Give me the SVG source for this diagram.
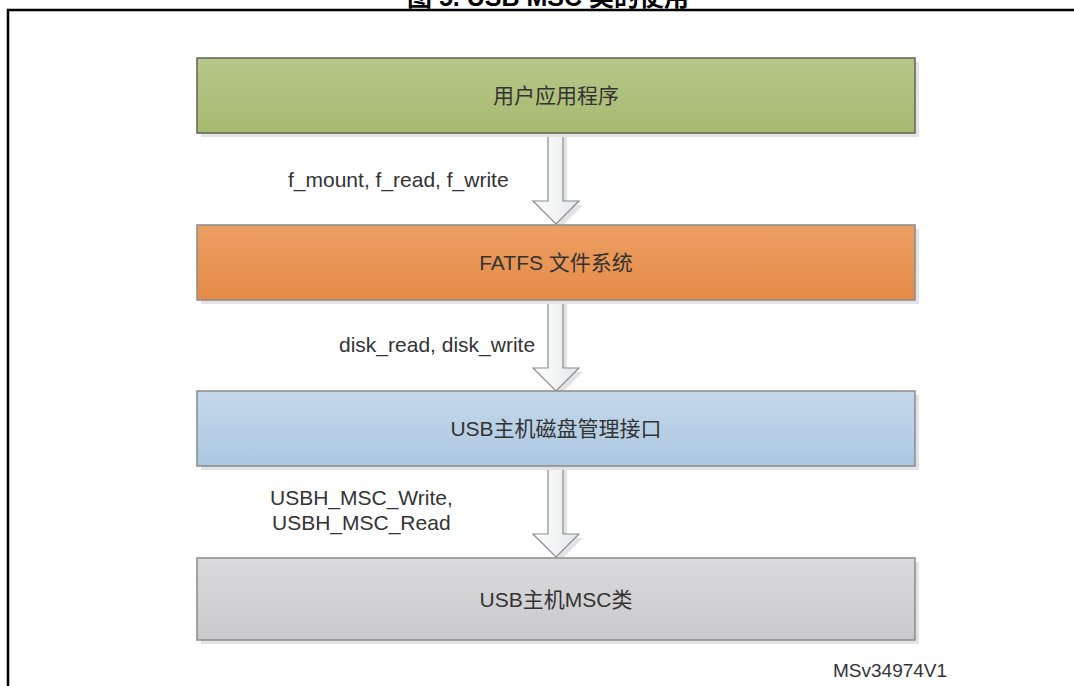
<svg xmlns="http://www.w3.org/2000/svg" width="1074" height="686" viewBox="0 0 1074 686">
<style>
.box{stroke:#8a8a8a;stroke-width:1.5}
.shadow{fill:#e3e3e5}
.lbl{font-family:"Liberation Sans","Noto Sans CJK SC",sans-serif;font-size:21px;fill:#333}
.cn{font-family:"Liberation Sans","Noto Sans CJK SC",sans-serif;font-size:21px;fill:#333;text-anchor:middle}
.arrow{fill:url(#ga);stroke:#8a8a8a;stroke-width:1.2}
</style>
<defs>
<linearGradient id="gg" x1="0" y1="0" x2="0" y2="1"><stop offset="0" stop-color="#b6c78a"/><stop offset="1" stop-color="#a7ba70"/></linearGradient>
<linearGradient id="go" x1="0" y1="0" x2="0" y2="1"><stop offset="0" stop-color="#eca063"/><stop offset="1" stop-color="#e58a47"/></linearGradient>
<linearGradient id="gb" x1="0" y1="0" x2="0" y2="1"><stop offset="0" stop-color="#c5d8ea"/><stop offset="1" stop-color="#abc8e1"/></linearGradient>
<linearGradient id="gs" x1="0" y1="0" x2="0" y2="1"><stop offset="0" stop-color="#dbdbdd"/><stop offset="1" stop-color="#c9c9cb"/></linearGradient>
<linearGradient id="ga" x1="0" y1="0" x2="1" y2="0"><stop offset="0" stop-color="#ffffff"/><stop offset="1" stop-color="#e6e7ea"/></linearGradient>
</defs>
<rect width="1074" height="686" fill="#fff"/>
<text x="548" y="6" text-anchor="middle" font-family="Liberation Sans,Noto Sans CJK SC,sans-serif" font-size="25" font-weight="bold" fill="#000">图 5. USB MSC 类的使用</text>
<path d="M8,686 V10 H1074" fill="none" stroke="#000" stroke-width="2.5"/>

<g id="connectors">
<path class="shadow" d="M552,137 H567 V205 H583 L560,228 L537,205 H552 Z"/>
<path class="arrow" d="M548,133 H563 V201 H579 L556,224 L533,201 H548 Z"/>
<path class="shadow" d="M552,304 H567 V372 H583 L560,395 L537,372 H552 Z"/>
<path class="arrow" d="M548,300 H563 V368 H579 L556,391 L533,368 H548 Z"/>
<path class="shadow" d="M552,470 H567 V538 H583 L560,561 L537,538 H552 Z"/>
<path class="arrow" d="M548,466 H563 V534 H579 L556,557 L533,534 H548 Z"/>
<text class="lbl" x="288" y="187">f_mount, f_read, f_write</text>
<text class="lbl" x="339" y="352">disk_read, disk_write</text>
<text class="lbl" x="270" y="505">USBH_MSC_Write,</text>
<text class="lbl" x="272" y="530">USBH_MSC_Read</text>
</g>

<g id="app">
<rect class="shadow" x="201" y="62" width="718" height="75"/>
<rect x="197" y="58" width="718" height="75" fill="url(#gg)" stroke="#5f6452" stroke-width="1.5"/>
<text class="cn" x="556" y="103">用户应用程序</text>
</g>
<g id="fatfs">
<rect class="shadow" x="201" y="229" width="718" height="75"/>
<rect class="box" x="197" y="225" width="718" height="75" fill="url(#go)"/>
<text class="cn" x="556" y="270">FATFS 文件系统</text>
</g>
<g id="diskio">
<rect class="shadow" x="201" y="395" width="718" height="75"/>
<rect class="box" x="197" y="391" width="718" height="75" fill="url(#gb)"/>
<text class="cn" x="556" y="436">USB主机磁盘管理接口</text>
</g>
<g id="msc">
<rect class="shadow" x="201" y="562" width="718" height="82"/>
<rect class="box" x="197" y="558" width="718" height="82" fill="url(#gs)"/>
<text class="cn" x="556" y="607">USB主机MSC类</text>
</g>
<text x="833" y="677" font-family="Liberation Sans,sans-serif" font-size="19" fill="#333">MSv34974V1</text>
</svg>
